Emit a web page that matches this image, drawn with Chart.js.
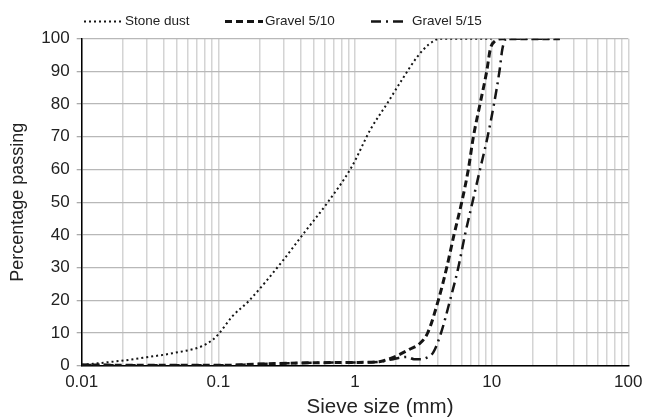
<!DOCTYPE html>
<html>
<head>
<meta charset="utf-8">
<script src="https://cdn.jsdelivr.net/npm/chart.js@4/dist/chart.umd.min.js"></script>
<style>
html,body{margin:0;padding:0;background:#fff;}
#wrap{width:660px;height:418px;}
</style>
</head>
<body>
<div id="wrap"><canvas id="c" width="660" height="418"></canvas></div>
<script>
// ---- data ----
const seriesNames = ['Stone dust', 'Gravel 5/10', 'Gravel 5/15'];

const stoneDustSize    = [0.01, 0.015, 0.0204, 0.03, 0.046, 0.0763, 0.09, 0.1, 0.1265, 0.167, 0.3, 0.42, 0.63, 0.94, 1.3, 1.72, 2.21, 2.85, 3.46, 4.2, 10];
const stoneDustPassing = [0.2, 1.0, 1.6, 2.6, 3.8, 6.0, 7.8, 9.6, 15.1, 19.8, 32.4, 40.4, 49.9, 60.6, 72.3, 80.2, 87.5, 94.4, 98.2, 100, 100];

const gravel510Size    = [0.01, 0.1, 0.2, 0.5, 1.0, 1.5, 1.72, 2.02, 2.5, 2.98, 3.4, 4.07, 4.69, 5.30, 6.04, 6.75, 7.35, 8.22, 9.2, 9.8, 10.6, 12, 31.5];
const gravel510Passing = [0.2, 0.1, 0.5, 0.9, 1.0, 1.2, 1.9, 3.0, 5.0, 6.8, 10, 20, 30, 40, 50, 60, 70, 80, 90, 97, 99.3, 100, 100];

const gravel515Size    = [0.01, 0.1, 0.2, 0.5, 1.0, 1.5, 1.9, 2.39, 2.7, 3.0, 3.3, 3.74, 4.26, 4.96, 5.70, 6.38, 7.24, 8.22, 9.34, 10.4, 11.4, 12.0, 12.8, 31.5];
const gravel515Passing = [0.2, 0.1, 0.5, 0.9, 1.0, 1.2, 2.0, 2.7, 2.0, 1.95, 2.3, 4.1, 10, 20, 30, 40, 50, 60, 70, 80, 90, 97, 100, 100];

const xGridValues = [0.01,0.02,0.03,0.04,0.05,0.06,0.07,0.08,0.09,
                     0.1,0.2,0.3,0.4,0.5,0.6,0.7,0.8,0.9,
                     1,2,3,4,5,6,7,8,9,
                     10,20,30,40,50,60,70,80,90,100];
const xMajorValues = [0.01, 0.1, 1, 10, 100];
const xTickLabels  = ['0.01', '0.1', '1', '10', '100'];
const yTickValues  = [0,10,20,30,40,50,60,70,80,90,100];

const axisTitleX = 'Sieve size (mm)';
const axisTitleY = 'Percentage passing';

// ---- chart ----
Chart.defaults.font.family = "'Liberation Sans', Arial, sans-serif";
Chart.defaults.color = '#222';

function pts(xs, ys) { return xs.map((x, i) => ({x: x, y: ys[i]})); }

const styles = [
  {borderDash: [2, 3], borderWidth: 2},
  {borderDash: [7, 4], borderWidth: 3},
  {borderDash: [10, 5, 2, 5], borderWidth: 2.5}
];
const seriesData = [
  pts(stoneDustSize, stoneDustPassing),
  pts(gravel510Size, gravel510Passing),
  pts(gravel515Size, gravel515Passing)
];

const datasets = seriesNames.map((name, i) => ({
  label: name,
  data: seriesData[i],
  borderColor: '#151515',
  backgroundColor: '#151515',
  borderWidth: styles[i].borderWidth,
  borderDash: styles[i].borderDash,
  borderCapStyle: 'butt',
  pointRadius: 0,
  fill: false,
  cubicInterpolationMode: 'monotone'
}));

// custom legend drawn at top (line samples + text) and x-axis title
const legendPlugin = {
  id: 'topLegend',
  afterDraw(chart) {
    const ctx = chart.ctx;
    const pos = [
      {x0: 84, x1: 122, tx: 125},
      {x0: 225, x1: 263, tx: 265},
      {x0: 371, x1: 405, tx: 412}
    ];
    const yLine = 21.5;
    ctx.save();
    chart.data.datasets.forEach((ds, i) => {
      const p = pos[i];
      ctx.beginPath();
      ctx.setLineDash(ds.borderDash);
      ctx.lineCap = 'butt';
      ctx.lineWidth = ds.borderWidth;
      ctx.strokeStyle = ds.borderColor;
      ctx.moveTo(p.x0, yLine);
      ctx.lineTo(p.x1, yLine);
      ctx.stroke();
      ctx.setLineDash([]);
      ctx.fillStyle = '#222';
      ctx.font = "13.5px 'Liberation Sans', Arial, sans-serif";
      ctx.textBaseline = 'middle';
      ctx.textAlign = 'left';
      ctx.fillText(ds.label, p.tx, yLine);
    });
    // x-axis title (offset to the right as in the reference)
    ctx.font = "20.5px 'Liberation Sans', Arial, sans-serif";
    ctx.textAlign = 'center';
    ctx.textBaseline = 'middle';
    ctx.fillStyle = '#222';
    ctx.fillText(axisTitleX, 380, 407);
    ctx.restore();
  }
};

new Chart(document.getElementById('c'), {
  type: 'line',
  data: {datasets: datasets},
  plugins: [legendPlugin],
  options: {
    responsive: false,
    animation: false,
    devicePixelRatio: 1,
    layout: {padding: {top: 38.7, right: 31.7, bottom: 0, left: 0}},
    plugins: {legend: {display: false}, tooltip: {enabled: false}},
    scales: {
      x: {
        type: 'logarithmic',
        min: 0.01,
        max: 100,
        afterBuildTicks: s => { s.ticks = xGridValues.map(v => ({value: v})); },
        afterFit: s => { s.height = 52.3; },
        ticks: {
          autoSkip: false,
          maxRotation: 0,
          padding: 6,
          color: '#222',
          font: {size: 17},
          callback: function(v) {
            for (let k = 0; k < xMajorValues.length; k++) {
              if (Math.abs(Math.log10(v) - Math.log10(xMajorValues[k])) < 1e-6) return xTickLabels[k];
            }
            return '';
          }
        },
        grid: {color: '#d4d4d4', lineWidth: 1.5, drawTicks: false},
        border: {color: '#000', width: 1.5},
        title: {display: false, text: axisTitleX}
      },
      y: {
        min: 0,
        max: 100,
        afterBuildTicks: s => { s.ticks = yTickValues.map(v => ({value: v})); },
        afterFit: s => { s.width = 81.7; },
        ticks: {padding: 7, color: '#222', font: {size: 17}},
        grid: {color: '#b8b8b8', lineWidth: 1.3, tickLength: 5, tickColor: '#aaa'},
        border: {color: '#000', width: 1.5},
        title: {display: true, text: axisTitleY, color: '#222', font: {size: 18}, padding: {top: 7, bottom: 0}}
      }
    }
  }
});
</script>
</body>
</html>
